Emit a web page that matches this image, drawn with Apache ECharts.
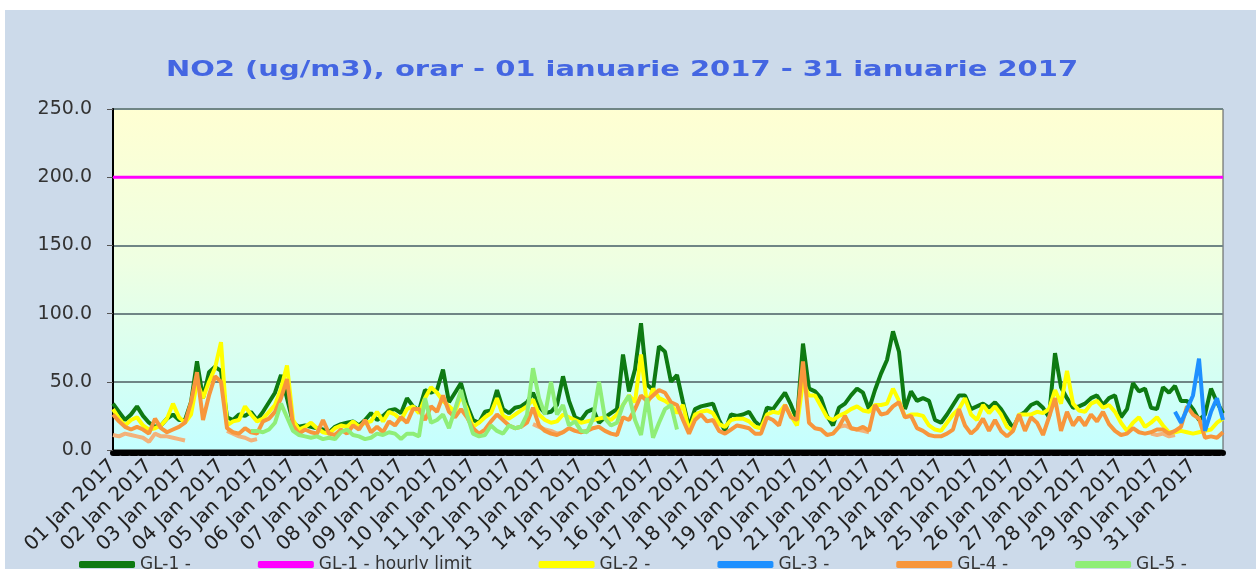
<!DOCTYPE html>
<html>
<head>
<meta charset="utf-8">
<script src="https://cdn.jsdelivr.net/npm/echarts/dist/echarts.min.js"></script>
<style>
html,body{margin:0;padding:0;background:#ffffff;width:1256px;height:569px;overflow:hidden;}
#bg{position:absolute;left:5px;top:10px;right:0;bottom:0;background:#CCDAEA;}
#chart{position:absolute;left:0;top:0;width:1256px;height:569px;}
</style>
</head>
<body>
<div id="bg"></div>
<div id="chart"></div>
<script>
// ---------- data ----------
const titleText = 'NO2 (ug/m3), orar - 01 ianuarie 2017 - 31 ianuarie 2017';
const days = ['01 Jan 2017','02 Jan 2017','03 Jan 2017','04 Jan 2017','05 Jan 2017','06 Jan 2017','07 Jan 2017','08 Jan 2017','09 Jan 2017','10 Jan 2017','11 Jan 2017','12 Jan 2017','13 Jan 2017','14 Jan 2017','15 Jan 2017','16 Jan 2017','17 Jan 2017','18 Jan 2017','19 Jan 2017','20 Jan 2017','21 Jan 2017','22 Jan 2017','23 Jan 2017','24 Jan 2017','25 Jan 2017','26 Jan 2017','27 Jan 2017','28 Jan 2017','29 Jan 2017','30 Jan 2017','31 Jan 2017'];
const hours = ['00:00','04:00','08:00','12:00','16:00','20:00'];
const yTicks = [0, 50, 100, 150, 200, 250];
const hourlyLimit = 200;

const gl1 = [
 34,28,22,26,32,25, 20,17,18,23,26,22, 22,35,65,38,57,61, 58,24,22,26,25,28,
 22,28,35,42,55,38, 20,17,18,17,16,15, 13,17,19,20,21,18, 22,27,22,25,29,30,
 27,38,32,29,44,42, 44,59,35,42,49,33, 22,20,28,29,44,30, 27,31,32,35,42,32,
 27,28,33,54,36,24, 22,28,30,20,24,27, 30,70,43,59,93,48, 44,76,72,50,55,35,
 17,30,32,33,34,22, 14,26,25,26,28,21, 17,31,30,36,42,33, 22,78,45,43,38,25,
 18,31,34,40,45,42, 30,44,56,66,87,72, 30,43,36,38,36,22, 20,26,33,40,40,30,
 32,34,31,35,30,23, 16,25,28,33,35,31, 24,71,46,38,31,32, 34,38,40,33,38,40,
 24,30,49,43,45,31, 30,46,42,47,36,36, 30,22,26,45,35,27
];
const gl2 = [
 30,23,18,22,24,18, 15,16,18,23,34,24, 20,26,50,38,50,60, 79,18,21,22,32,26,
 21,23,28,33,45,62, 22,15,17,20,16,13, 12,16,18,17,21,17, 20,21,28,21,28,26,
 22,30,32,27,38,46, 42,36,32,28,40,30, 17,20,24,27,38,25, 23,26,29,32,37,26,
 22,20,21,26,24,22, 20,21,22,23,24,22, 26,33,40,35,70,33, 45,38,36,33,27,33,
 14,26,28,29,27,19, 17,22,23,23,21,17, 16,26,28,27,33,25, 18,50,40,40,32,24,
 22,25,27,30,32,29, 28,33,33,34,45,36, 24,26,26,25,18,15, 14,20,26,30,38,26,
 22,33,27,32,26,17, 14,26,26,26,28,27, 30,44,34,58,34,29, 28,34,36,31,33,28,
 20,14,20,24,17,20, 24,18,13,13,14,13, 12,13,14,15,20,23
];
const gl3Start = 177;
const gl3 = [28,20,30,40,67,14,28,38,22];
const gl4 = [
 26,21,17,15,17,15, 12,23,16,13,15,17, 20,35,57,22,40,54, 50,16,13,12,16,13,
 12,21,23,28,38,52, 18,12,15,13,12,22, 12,11,15,12,18,15, 22,13,17,13,21,18,
 24,20,30,30,22,32, 28,40,28,24,30,24, 16,12,15,21,26,22, 18,16,17,20,31,18,
 14,12,11,13,16,14, 13,14,16,17,14,12, 11,24,22,30,40,36, 40,44,42,35,33,22,
 12,22,26,21,22,14, 12,15,18,17,16,12, 12,24,22,18,33,24, 22,65,20,16,15,11,
 12,17,25,16,15,17, 14,33,26,27,32,35, 24,25,16,14,11,10, 10,12,15,30,18,12,
 16,23,14,22,14,10, 14,26,14,24,20,11, 24,38,14,28,18,24, 18,26,21,28,19,14,
 11,12,16,13,12,13, 15,15,12,14,17,32, 26,23,9,10,9,13
];
const gl5Start = 23;
const gl5 = [
 14,
 14,13,15,20,34,24, 14,11,10,9,10,8, 9,8,13,15,11,10, 8,9,12,11,13,12,
 8,12,12,10,38,20, 22,26,16,30,44,26, 12,10,11,18,14,12, 18,16,17,26,60,38,
 26,50,26,33,18,21, 14,13,23,50,23,18, 20,33,40,22,11,38, 9,20,30,33,15
];
// secondary pale-orange trace (no visible legend entry in the cropped picture)
const extraSegStarts = [0, 19, 70, 121, 173];
const extraSegs = [
 [11,10,12,11,10,9,6,12,10,10,9,8,7],
 [14,12,10,9,7,8],
 [19,17,15,14,12,13],
 [17,18,16,15,14,13],
 [12,11,12,10,11]
];

// ---------- build ----------
const categories = [];
days.forEach(d => hours.forEach(h => categories.push(d + ' ' + h)));
const N = categories.length;
function place(starts, segs) {
  const out = new Array(N).fill(null);
  starts.forEach((s, k) => segs[k].forEach((v, j) => { out[s + j] = v; }));
  return out;
}
const gl3Data = place([gl3Start], [gl3]);
const gl5Data = place([gl5Start], [gl5]);
const extraData = place(extraSegStarts, extraSegs);
const limitData = new Array(N).fill(hourlyLimit);

function lineSeries(name, data, color, width, z) {
  return {
    name: name, type: 'line', data: data, showSymbol: false, symbol: 'none',
    connectNulls: false, z: z,
    lineStyle: { color: color, width: width },
    itemStyle: { color: color },
    emphasis: { disabled: true }
  };
}

const chart = echarts.init(document.getElementById('chart'), null, { renderer: 'canvas' });
const option = {
  animation: false,
  backgroundColor: 'transparent',
  textStyle: { fontFamily: 'DejaVu Sans' },
  graphic: [{
    type: 'text', x: 622, y: 71, scaleX: 1.38, scaleY: 1,
    style: { text: titleText, font: 'bold 21px "DejaVu Sans"', fill: '#4466E2', align: 'center', verticalAlign: 'middle' }
  }],
  grid: {
    left: 113, right: 33, top: 109, bottom: 119, show: true,
    borderColor: '#555', borderWidth: 1,
    backgroundColor: {
      type: 'linear', x: 0, y: 0, x2: 0, y2: 1,
      colorStops: [
        { offset: 0, color: '#FFFFD2' },
        { offset: 0.45, color: '#EEFFE2' },
        { offset: 1, color: '#C4FFFF' }
      ]
    }
  },
  legend: {
    data: ['GL-1 -', 'GL-1 - hourly limit', 'GL-2 -', 'GL-3 -', 'GL-4 -', 'GL-5 -'],
    left: 74, top: 551, icon: 'roundRect', itemWidth: 56, itemHeight: 7, itemGap: 67,
    textStyle: { fontSize: 17, color: '#333', fontFamily: 'DejaVu Sans' }
  },
  xAxis: [{
    type: 'category', data: categories, boundaryGap: false,
    axisLine: { lineStyle: { color: '#000', width: 1 } },
    axisTick: { show: false },
    splitLine: { show: false },
    axisLabel: {
      interval: (i) => i % hours.length === 0,
      formatter: (v) => v.slice(0, 11),
      rotate: 45, fontSize: 20, color: '#222', margin: 13, fontFamily: 'DejaVu Sans'
    }
  }, {
    type: 'category', data: categories, boundaryGap: false, position: 'bottom', offset: 3,
    axisLine: { lineStyle: { color: '#000', width: 6, type: [6, 2.95] } },
    axisTick: { show: false }, axisLabel: { show: false }, splitLine: { show: false }
  }],
  yAxis: {
    type: 'value', min: yTicks[0], max: yTicks[yTicks.length - 1], interval: 50,
    axisLine: { show: true, lineStyle: { color: '#000', width: 2 } },
    axisTick: { show: true, length: 6, lineStyle: { color: '#555' } },
    axisLabel: { formatter: (v) => v.toFixed(1), fontSize: 19, color: '#333', margin: 21, fontFamily: 'DejaVu Sans' },
    splitLine: { lineStyle: { color: '#6F8585', width: 2 } }
  },
  series: [
    lineSeries('GL-4 (b)', extraData, '#F2B27A', 4, 2),
    lineSeries('GL-1 -', gl1, '#0E7A12', 4, 3),
    lineSeries('GL-1 - hourly limit', limitData, '#FF00FF', 3, 3),
    lineSeries('GL-2 -', gl2, '#FFFF00', 4, 4),
    lineSeries('GL-3 -', gl3Data, '#1E90FF', 4, 6),
    lineSeries('GL-4 -', gl4, '#F7963C', 4, 5),
    lineSeries('GL-5 -', gl5Data, '#8FEE78', 4, 6)
  ]
};
chart.setOption(option);
</script>
</body>
</html>
